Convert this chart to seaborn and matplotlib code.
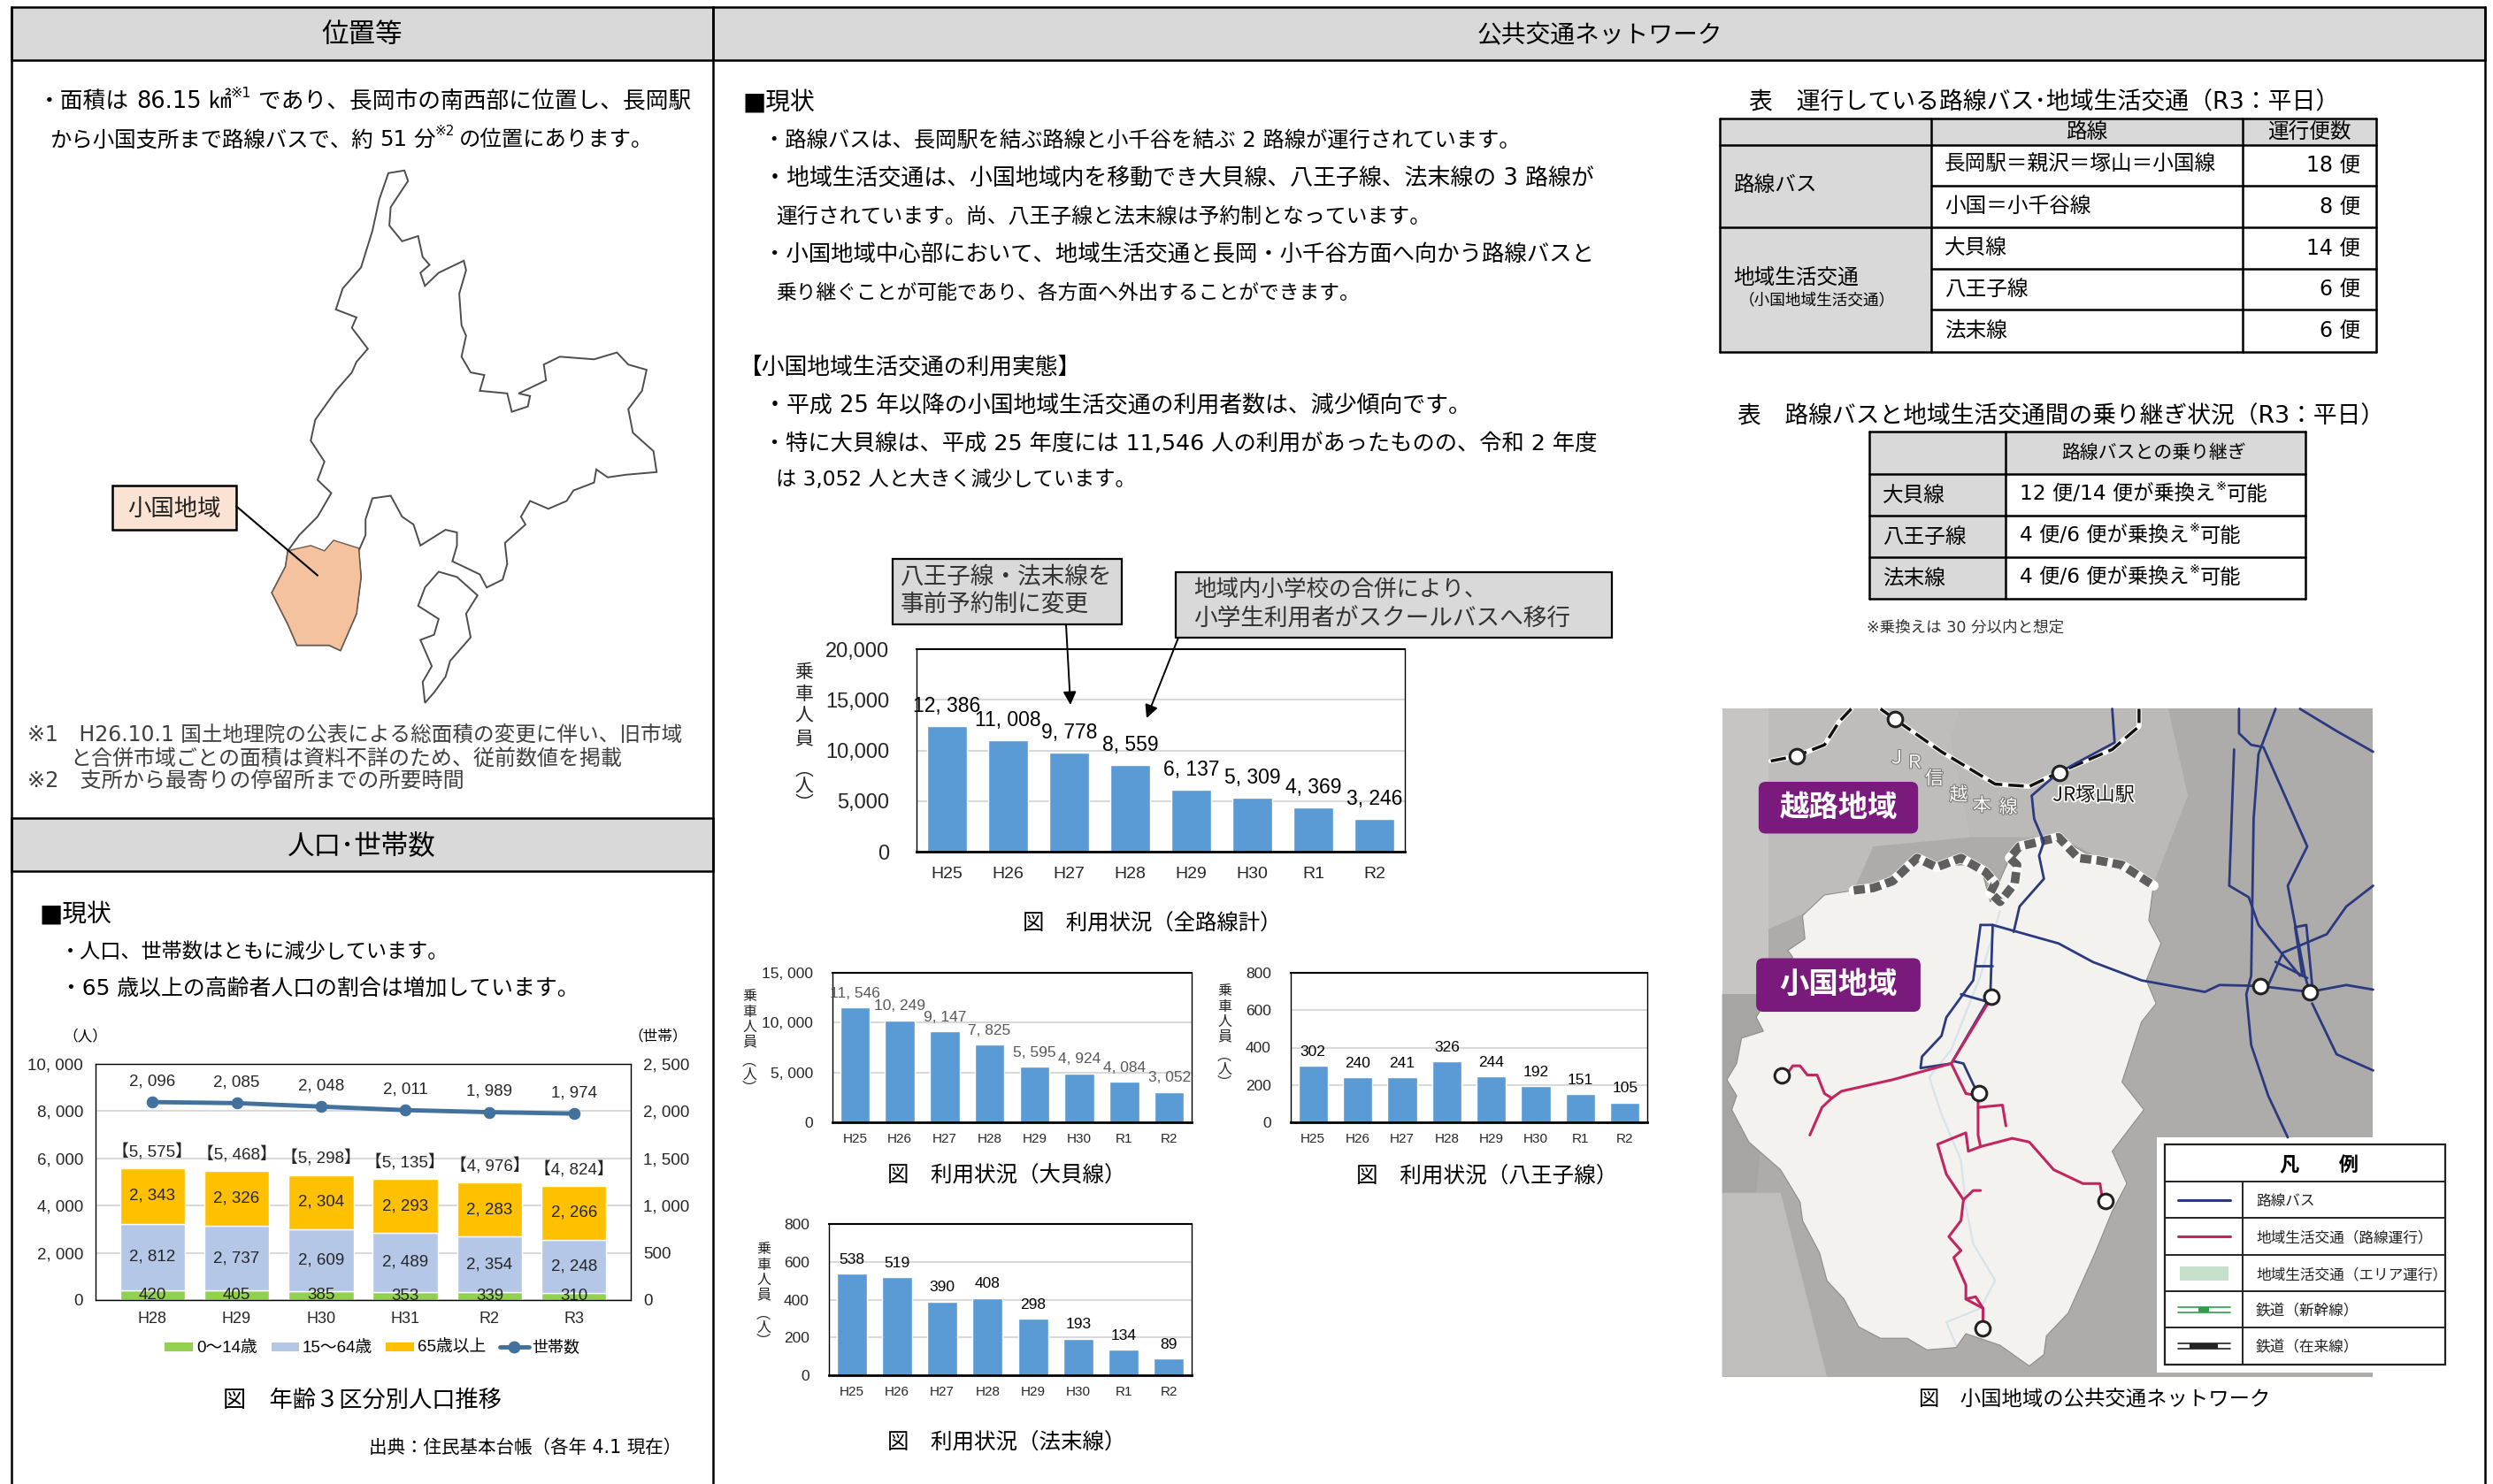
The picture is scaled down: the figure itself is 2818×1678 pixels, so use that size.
import numpy as np
import pandas as pd
import matplotlib
matplotlib.use('Agg')
import matplotlib.pyplot as plt
import matplotlib.patheffects as pe
import seaborn as sns
from matplotlib.patches import Polygon, Rectangle, FancyBboxPatch

W, H = 2818, 1678

sns.set_theme(style='white')
BODY = ['DejaVu Sans', 'Noto Sans CJK JP']
CJK = ['Noto Sans CJK JP', 'DejaVu Sans']
NARROW = ['Liberation Sans', 'Noto Sans CJK JP', 'DejaVu Sans']
plt.rcParams['font.family'] = BODY

# population chart
pop_years = ['H28', 'H29', 'H30', 'H31', 'R2', 'R3']
age_0_14 = [420, 405, 385, 353, 339, 310]
age_15_64 = [2812, 2737, 2609, 2489, 2354, 2248]
age_65 = [2343, 2326, 2304, 2293, 2283, 2266]
pop_total = [5575, 5468, 5298, 5135, 4976, 4824]
households = [2096, 2085, 2048, 2011, 1989, 1974]

# ridership charts
route_years = ['H25', 'H26', 'H27', 'H28', 'H29', 'H30', 'R1', 'R2']
riders_all = [12386, 11008, 9778, 8559, 6137, 5309, 4369, 3246]
riders_ogai = [11546, 10249, 9147, 7825, 5595, 4924, 4084, 3052]
riders_hachioji = [302, 240, 241, 326, 244, 192, 151, 105]
riders_hokkatsu = [538, 519, 390, 408, 298, 193, 134, 89]

# tables
bus_routes = ['長岡駅＝親沢＝塚山＝小国線', '小国＝小千谷線', '大貝線', '八王子線', '法末線']
bus_counts = ['18 便', '8 便', '14 便', '6 便', '6 便']
transfer_routes = ['大貝線', '八王子線', '法末線']
transfer_text = ['12 便/14 便が乗換え', '4 便/6 便が乗換え', '4 便/6 便が乗換え']

# locator map
city_outline = [(850,330),(885,325),(893,345),(870,375),(855,395),(852,430),(880,460),(915,450),(925,490),(940,505),
                (920,520),(930,545),(960,520),(1015,497),(1020,515),(1005,560),(1010,620),(1020,640),(1010,680),(1030,710),
                (1060,715),(1050,745),(1110,750),(1120,785),(1155,775),(1160,755),(1135,750),(1195,725),(1190,695),(1225,680),
                (1300,685),(1350,672),(1375,695),(1415,705),(1405,745),(1375,780),(1385,825),(1430,860),(1437,900),(1370,905),
                (1330,910),(1305,895),(1300,920),(1255,935),(1240,955),(1200,970),(1160,955),(1140,985),(1150,1000),(1105,1035),
                (1110,1075),(1100,1105),(1065,1120),(1050,1095),(990,1070),(1000,1040),(1000,1015),(975,1010),(920,1040),(905,1000),
                (880,985),(855,945),(815,950),(800,990),(800,1020),(785,1050),(790,1100),(780,1170),(745,1240),(720,1230),
                (650,1230),(630,1190),(595,1130),(625,1080),(630,1050),(655,1020),(695,985),(725,940),(695,915),(710,880),
                (680,840),(690,800),(735,745),(770,710),(780,690),(805,665),(770,625),(780,605),(735,590),(750,550),
                (790,510),(815,440),(830,380)]
city_south = [(930,1340),(925,1300),(945,1270),(920,1220),(950,1210),(960,1180),(915,1155),(930,1120),(960,1090),(1000,1100),
              (1045,1135),(1020,1170),(1030,1215),(985,1260),(975,1290),(950,1320)]
oguni_area = [(630,1050),(680,1040),(710,1050),(730,1030),(785,1045),(790,1100),(780,1170),(745,1240),(720,1230),(650,1230),
              (630,1190),(595,1130),(625,1080)]

# network map
region_outline = [(300,415),(240,425),(195,470),(200,520),(165,545),(175,560),(100,690),(115,720),(70,735),(60,790),
                  (40,825),(60,860),(50,890),(85,960),(150,1020),(190,1090),(195,1130),(230,1200),(245,1260),(280,1300),
                  (310,1360),(355,1385),(410,1385),(450,1410),(510,1405),(530,1375),(600,1400),(660,1445),(690,1420),(695,1380),
                  (740,1330),(795,1200),(830,1110),(860,1050),(830,980),(895,890),(850,830),(890,700),(920,660),(900,610),
                  (930,530),(905,480),(915,400),(870,380),(800,350),(720,300),(640,320),(620,345),(580,440),(560,360),
                  (500,360),(430,350),(380,395),(340,410)]
border_line = [(300,415),(340,410),(380,395),(430,345),(470,365),(520,345),(570,375),(590,400),(580,420),(600,440),
               (630,400),(635,360),(620,345),(640,320),(680,310),(720,300),(760,345),(800,350),(850,360),(915,405)]
river_line = [(600,460),(560,600),(500,760),(455,820),(480,900),(520,1000),(530,1100),(545,1180),(590,1260),(560,1320),(490,1350),(510,1400)]
bus_lines = [[(830,22),(835,95),(720,160),(665,210),(670,260),(690,310),(680,340),(690,390),(640,450),(628,505)],
             [(560,490),(585,490),(720,530),(790,570),(890,610),(1020,635),(1050,620),(1130,622),(1235,635),(1310,620),(1365,630)],
             [(560,490),(550,570),(545,610),(490,690),(480,730),(440,775),(437,800),(500,790),(580,645),(585,490)],
             [(550,578),(585,578)], [(520,640),(570,655)],
             [(505,785),(525,790),(545,835),(555,855)],
             [(1165,22),(1130,120),(1120,260),(1115,600),(1105,640),(1115,750),(1150,860),(1190,950)],
             [(1090,22),(1090,75),(1115,100),(1140,105),(1230,320),(1190,405),(1225,600),(1235,635)],
             [(1080,110),(1070,405),(1110,430),(1130,490),(1215,600)],
             [(1215,22),(1290,70),(1365,115)],
             [(1365,405),(1310,450),(1270,510),(1180,550),(1150,620)],
             [(1205,495),(1228,490),(1240,620)], [(1205,495),(1220,600)], [(1165,570),(1230,605)],
             [(1240,660),(1290,770),(1365,805)]]
local_lines = [[(165,810),(175,795),(190,795),(205,815),(225,815),(240,855),(255,865),(275,850),(380,825),(500,790),(575,660)],
               [(255,865),(235,885),(210,945)],
               [(500,790),(530,855),(555,860),(555,945),(560,970),(535,980),(530,940),(472,965),(490,1030),(525,1085),(520,1130),
                (495,1165),(520,1195),(505,1210),(530,1270),(530,1300),(565,1320),(565,1365)],
               [(530,1300),(550,1295),(565,1320)],
               [(555,885),(605,880),(612,925)],
               [(560,970),(625,952),(660,960),(710,1020),(770,1050),(805,1050),(810,1085)],
               [(525,1085),(545,1065),(560,1065)]]
rail_lines = [[(130,135),(183,124),(240,100),(270,50),(295,22)],
              [(355,22),(385,45),(480,115),(590,185),(660,190),(720,160),(830,110),(885,60),(885,22)]]
stations = [(183,124),(385,45),(722,160),(583,645),(557,854),(152,815),(817,1087),(565,1363),(1133,622),(1235,636)]
legend_names = ['路線バス', '地域生活交通（路線運行）', '地域生活交通（エリア運行）', '鉄道（新幹線）', '鉄道（在来線）']


fig = plt.figure(figsize=(W / 100, H / 100), dpi=100, facecolor='white')
ov = fig.add_axes([0, 0, 1, 1], zorder=10)
ov.set_xlim(0, W)
ov.set_ylim(H, 0)
ov.axis('off')
ov.patch.set_alpha(0)
renderer = fig.canvas.get_renderer()


def s(v):
    # positions read on the 1568 wide view
    return v * W / 1568


def lx(p):
    return p[0] / 1.936


def ly(p):
    return p[1] / 1.686


def mx(p):
    return 1930 + p[0] / 1.814


def my(p):
    return 790 + p[1] / 1.915


def mxy(pts):
    return [mx(p) for p in pts], [my(p) for p in pts]


def fit(x0, x1, y, txt, color='black', family=BODY):
    t = ov.text(x0, y + 2, txt, fontsize=20, color=color, va='center', ha='left', family=family)
    t.set_fontsize(20 * (x1 - x0) / t.get_window_extent(renderer).width)
    return t


def label(x, y, txt, size=17, ha='left', color='black', **kw):
    return ov.text(x, y + 2, txt, fontsize=size, color=color, va='center', ha=ha, **kw)


def rich(x0, x1, y, parts, color='black'):
    # parts: text, superscript flag, gap after in em
    def layout(size, draw):
        x = x0
        for txt, sup, gap in parts:
            fs = size * 0.62 if sup else size
            yy = y + 2 - size * 0.55 if sup else y + 2
            t = ov.text(x, yy, txt, fontsize=fs, color=color, va='center', ha='left')
            x += t.get_window_extent(renderer).width + gap * size / 0.72
            if not draw:
                t.remove()
        return x - x0
    size = 20 * (x1 - x0) / layout(20, False)
    layout(size, True)


def vlabel(x, y0, step, size):
    for i, c in enumerate('乗車人員'):
        ov.text(x, y0 + i * step, c, fontsize=size, ha='center', va='center', family=CJK)
    ov.text(x, y0 + 5.2 * step, '︵\n人\n︶', fontsize=size, ha='center', va='center', ma='center',
            linespacing=0.85, family=CJK)


def px_axes(l, t, r, b):
    return fig.add_axes([l / W, 1 - b / H, (r - l) / W, (b - t) / H], zorder=1)


def comma(v, sep=', '):
    return f'{v:,}'.replace(',', sep)


def narrow_ticks(ax):
    for t in ax.get_xticklabels() + ax.get_yticklabels():
        t.set_family(NARROW)


def ridership(box, values, ymax, step, lab_size, y_size, x_size, ypad, xpad, lab_pad, lab_color='black', sep=', '):
    ax = px_axes(*box)
    df = pd.DataFrame({'year': route_years, 'riders': values})
    sns.barplot(data=df, x='year', y='riders', color='#5B9BD5', saturation=1, width=0.66, ax=ax)
    ax.set_ylim(0, ymax)
    ax.set_xlabel('')
    ax.set_ylabel('')
    ticks = np.arange(0, ymax + 1, step)
    ax.set_yticks(ticks)
    ax.set_yticklabels([comma(int(v), sep) for v in ticks])
    ax.tick_params(axis='y', length=0, pad=ypad, labelsize=y_size)
    ax.tick_params(axis='x', length=0, pad=xpad, labelsize=x_size)
    narrow_ticks(ax)
    ax.grid(axis='y', color='#D9D9D9', lw=1.5)
    ax.set_axisbelow(True)
    for sp in ax.spines.values():
        sp.set_color('black')
        sp.set_linewidth(1.0)
    ax.spines['bottom'].set_linewidth(2)
    ax.spines['top'].set_linewidth(1.5)
    ax.bar_label(ax.containers[0], labels=[comma(v) for v in values], padding=lab_pad,
                 fontsize=lab_size, color=lab_color, family=NARROW)
    return ax


# frame and section headers
for x0, x1, y0, y1 in [(13, 806, 8, 68), (806, 2809, 8, 68), (13, 806, 925, 985)]:
    ov.add_patch(Rectangle((x0, y0), x1 - x0, y1 - y0, fc='#D9D9D9', ec='black', lw=1.8))
ov.plot([13, 13], [8, H], color='black', lw=1.8)
ov.plot([806, 806], [8, H], color='black', lw=1.8)
ov.plot([2809, 2809], [8, H], color='black', lw=1.8)
label(409, 38, '位置等', 22, 'center')
label(1808, 38, '公共交通ネットワーク', 20, 'center')
label(409, 955, '人口･世帯数', 22, 'center', family=CJK)

# location section
rich(s(24), s(434), s(63), [('・面積は', 0, 0.3), ('86.15', 0, 0.3), ('㎢', 0, 0), ('※1', 1, 0.3), ('であり、長岡市の南西部に位置し、長岡駅', 0, 0)])
rich(s(31), s(411), s(87), [('から小国支所まで路線バスで、約', 0, 0.3), ('51', 0, 0.3), ('分', 0, 0), ('※2', 1, 0.2), ('の位置にあります。', 0, 0)])
for pts, fc in [(city_outline, 'white'), (city_south, 'white')]:
    ov.add_patch(Polygon([(lx(p), ly(p)) for p in pts], fc=fc, ec='#4D4D4D', lw=1.4))
ov.add_patch(Polygon([(lx(p), ly(p)) for p in oguni_area], fc='#F4C29F', ec='#6B5A4D', lw=1))
ov.plot([lx((517, 965)), lx((695, 1097))], [ly((517, 965)), ly((695, 1097))], color='black', lw=1.5)
ov.add_patch(Rectangle((lx((246, 0)), ly((0, 925))), lx((271, 0)), ly((0, 85)), fc='#FBE3D4', ec='black', lw=1.8))
label(lx((381, 0)), ly((0, 967)), '小国地域', 19, 'center', color='#222222')
fit(s(17), s(428), s(461), '※1　H26.10.1 国土地理院の公表による総面積の変更に伴い、旧市域', '#404040')
fit(s(44), s(390), s(476), 'と合併市域ごとの面積は資料不詳のため、従前数値を掲載', '#404040')
fit(s(17), s(291), s(490), '※2　支所から最寄りの停留所までの所要時間', '#404040')

# population section
label(s(25), s(574), '■現状', 20)
fit(s(38), s(283), s(598), '・人口、世帯数はともに減少しています。')
fit(s(38), s(364), s(621), '・65 歳以上の高齢者人口の割合は増加しています。')

pop_ax = px_axes(108, 1203, 713, 1470)
pop_df = pd.DataFrame({'year': pop_years, 'young': age_0_14, 'mid': age_15_64, 'old': age_65})
bottoms = np.zeros(len(pop_years))
for col, colour in [('young', '#92D050'), ('mid', '#B4C7E7'), ('old', '#FFC000')]:
    sns.barplot(data=pop_df, x='year', y=col, color=colour, saturation=1, width=0.77, bottom=bottoms, ax=pop_ax)
    bottoms = bottoms + pop_df[col].to_numpy()
pop_ax.set_ylim(0, 10000)
pop_ax.set_xlabel('')
pop_ax.set_ylabel('')
pop_ax.set_yticks(np.arange(0, 10001, 2000))
pop_ax.set_yticklabels([comma(int(v)) for v in np.arange(0, 10001, 2000)])
pop_ax.tick_params(axis='y', length=0, pad=10, labelsize=13.5)
pop_ax.tick_params(axis='x', length=0, pad=9, labelsize=13)
narrow_ticks(pop_ax)
pop_ax.grid(axis='y', color='#D9D9D9', lw=1.5)
pop_ax.set_axisbelow(True)
for sp in pop_ax.spines.values():
    sp.set_color('black')
    sp.set_linewidth(1.0)
for cont, vals in zip(pop_ax.containers, [age_0_14, age_15_64, age_65]):
    pop_ax.bar_label(cont, labels=[comma(v) for v in vals], label_type='center', fontsize=13.5, family=NARROW)
pop_ax.bar_label(pop_ax.containers[2], labels=['【' + comma(v) + '】' for v in pop_total], padding=7, fontsize=13.5, family=NARROW)

hh_ax = pop_ax.twinx()
sns.lineplot(x=np.arange(len(pop_years)), y=households, color='#41719C', lw=3.5, marker='o', markersize=9,
             markeredgecolor='#41719C', ax=hh_ax)
hh_ax.set_ylim(0, 2500)
hh_ax.set_yticks(np.arange(0, 2501, 500))
hh_ax.set_yticklabels([comma(int(v)) for v in np.arange(0, 2501, 500)])
hh_ax.tick_params(axis='y', length=0, pad=10, labelsize=13.5, right=False)
narrow_ticks(hh_ax)
hh_ax.grid(False)
for sp in hh_ax.spines.values():
    sp.set_visible(False)
for i, v in enumerate(households):
    hh_ax.annotate(comma(v), (i, v), xytext=(0, 17), textcoords='offset points', ha='center', va='center',
                   fontsize=13.5, family=NARROW)

label(96, 1170, '（人）', 12, 'center', family=CJK)
label(744, 1170, '（世帯）', 12, 'center', family=CJK)
for x0, x1, colour, txt in [(186, 218, '#92D050', '0～14歳'), (307, 338, '#B4C7E7', '15～64歳'), (436, 468, '#FFC000', '65歳以上')]:
    ov.add_patch(Rectangle((x0, 1518), x1 - x0, 10, fc=colour, ec='none'))
    label(x1 + 4, 1522, txt, 13.5, family=NARROW)
ov.plot([565, 598], [1523, 1523], color='#41719C', lw=3.5)
ov.plot([581], [1523], 'o', color='#41719C', ms=9)
label(601, 1522, '世帯数', 13, family=CJK)
fit(s(140), s(315), s(880), '図　年齢３区分別人口推移', family=CJK)
fit(s(232), s(429), s(910), '出典：住民基本台帳（各年 4.1 現在）')

# transport section text
label(s(467), s(63), '■現状', 20)
fit(s(480), s(957), s(87), '・路線バスは、長岡駅を結ぶ路線と小千谷を結ぶ 2 路線が運行されています。')
fit(s(480), s(1003), s(111), '・地域生活交通は、小国地域内を移動でき大貝線、八王子線、法末線の 3 路線が')
fit(s(488), s(899), s(135), '運行されています。尚、八王子線と法末線は予約制となっています。')
fit(s(480), s(1003), s(159), '・小国地域中心部において、地域生活交通と長岡・小千谷方面へ向かう路線バスと')
fit(s(488), s(855), s(183), '乗り継ぐことが可能であり、各方面へ外出することができます。')
fit(s(465), s(680), s(230), '【小国地域生活交通の利用実態】')
fit(s(480), s(926), s(254), '・平成 25 年以降の小国地域生活交通の利用者数は、減少傾向です。')
fit(s(480), s(1003), s(278), '・特に大貝線は、平成 25 年度には 11,546 人の利用があったものの、令和 2 年度')
fit(s(488), s(714), s(301), 'は 3,052 人と大きく減少しています。')

# ridership charts
ridership((1036, 734, 1588, 963), riders_all, 20000, 5000, 16.5, 17, 14, 22, 12, 8, sep=',')
ridership((941, 1100, 1347, 1269), riders_ogai, 15000, 5000, 12.5, 12.5, 11, 16, 9, 6, '#595959')
ridership((1459, 1100, 1862, 1269), riders_hachioji, 800, 200, 12.5, 12.5, 11, 16, 9, 6)
ridership((937, 1384, 1347, 1555), riders_hokkatsu, 800, 200, 12.5, 12.5, 11, 16, 9, 6)
vlabel(909, 760, 25, 15)
vlabel(847, 1127, 17, 11.5)
vlabel(1384, 1121, 17, 11.5)
vlabel(863, 1413, 17, 11.5)

# callouts
ov.add_patch(Rectangle((1009, 632), 259, 74, fc='#D9D9D9', ec='black', lw=1.6))
ov.add_patch(Rectangle((1329, 647), 493, 74, fc='#D9D9D9', ec='black', lw=1.6))
fit(1018, 1257, 650, '八王子線・法末線を', '#333333', CJK)
fit(1018, 1231, 682, '事前予約制に変更', '#333333', CJK)
fit(1349, 1680, 666, '地域内小学校の合併により、', '#333333', CJK)
fit(1349, 1775, 698, '小学生利用者がスクールバスへ移行', '#333333', CJK)
for a, b in [((1205, 706), (1210, 797)), ((1332, 721), (1296, 812))]:
    ov.annotate('', xy=b, xytext=a, arrowprops=dict(arrowstyle='-|>', color='black', lw=1.4, mutation_scale=22, shrinkA=0, shrinkB=0))

fit(s(643), s(806), s(580), '図　利用状況（全路線計）', family=CJK)
fit(s(558), s(708), s(739), '図　利用状況（大貝線）', family=CJK)
fit(s(853), s(1017), s(739), '図　利用状況（八王子線）', family=CJK)
fit(s(558), s(708), s(907), '図　利用状況（法末線）', family=CJK)

# table of services
fit(1977, 2643, 114, '表　運行している路線バス･地域生活交通（R3：平日）', family=BODY)
t1_x = [1944, 2183, 2535, 2686]
t1_y = [134, 163.5, 210, 257, 304, 350, 398]
ov.add_patch(Rectangle((t1_x[0], t1_y[0]), t1_x[1] - t1_x[0], t1_y[-1] - t1_y[0], fc='#D9D9D9', ec='none'))
ov.add_patch(Rectangle((t1_x[0], t1_y[0]), t1_x[3] - t1_x[0], t1_y[1] - t1_y[0], fc='#D9D9D9', ec='none'))
for x in t1_x:
    ov.plot([x, x], [t1_y[0], t1_y[-1]], color='black', lw=1.8)
ov.plot([t1_x[0], t1_x[3]], [t1_y[0]] * 2, color='black', lw=1.8)
for i, y in enumerate(t1_y[1:]):
    start = t1_x[1] if i in (1, 3, 4) else t1_x[0]
    ov.plot([start, t1_x[3]], [y, y], color='black', lw=1.8)
label((t1_x[1] + t1_x[2]) / 2, 147, '路線', 17, 'center')
label((t1_x[2] + t1_x[3]) / 2, 147, '運行便数', 17, 'center')
label(1959, 207, '路線バス', 17)
label(1959, 312, '地域生活交通', 17)
fit(1966, 2142, 337, '（小国地域生活交通）', family=CJK)
for i, (r, c) in enumerate(zip(bus_routes, bus_counts)):
    cy = (t1_y[i + 1] + t1_y[i + 2]) / 2 - 2
    label(2198, cy, r, 17, family=CJK)
    label(2668, cy, c, 17, 'right')

# transfer table
fit(1964, 2694, 469, '表　路線バスと地域生活交通間の乗り継ぎ状況（R3：平日）')
t2_x = [2113, 2267, 2606]
t2_y = [488, 536, 583, 630, 677]
ov.add_patch(Rectangle((t2_x[0], t2_y[0]), t2_x[1] - t2_x[0], t2_y[-1] - t2_y[0], fc='#D9D9D9', ec='none'))
ov.add_patch(Rectangle((t2_x[0], t2_y[0]), t2_x[2] - t2_x[0], t2_y[1] - t2_y[0], fc='#D9D9D9', ec='none'))
for x in t2_x:
    ov.plot([x, x], [t2_y[0], t2_y[-1]], color='black', lw=1.8)
for y in t2_y:
    ov.plot([t2_x[0], t2_x[2]], [y, y], color='black', lw=1.8)
label(2435, 510, '路線バスとの乗り継ぎ', 15, 'center')
for i, (r, txt) in enumerate(zip(transfer_routes, transfer_text)):
    cy = (t2_y[i + 1] + t2_y[i + 2]) / 2 - 2
    label(2128, cy, r, 17)
    x_end = 2563 if i == 0 else 2533
    rich(2283, x_end, cy, [(txt, 0, 0), ('※', 1, 0), ('可能', 0, 0)])
fit(2110, 2333, 708, '※乗換えは 30 分以内と想定', '#333333')

# network map
ov.add_patch(Rectangle((mx((30, 0)), my((0, 22))), 1335 / 1.814, 1446 / 1.915, fc='#ADACAA', ec='none'))
for poly, colour in [([(30,22),(125,22),(125,640),(30,640)], '#C6C5C3'),
                     ([(125,22),(520,22),(500,90),(540,300),(340,320),(300,415),(125,500)], '#BEBDBB'),
                     ([(520,22),(945,22),(985,210),(915,400),(720,300),(540,300),(500,90)], '#BBBAB8'),
                     ([(30,640),(140,640),(100,1070),(30,1070)], '#A6A5A3'),
                     ([(30,1070),(150,1070),(245,1468),(30,1468)], '#BFBEBC')]:
    ov.add_patch(Polygon([(mx(p), my(p)) for p in poly], fc=colour, ec='none'))
ov.add_patch(Polygon([(mx(p), my(p)) for p in region_outline], fc='#F3F2EF', ec='#8C8C8C', lw=0.8))
xs, ys = mxy(river_line)
ov.plot(xs, ys, color='#D5E3EA', lw=1.6)
xs, ys = mxy(border_line)
ov.plot(xs, ys, color='white', lw=8, solid_capstyle='round')
ov.plot(xs, ys, color='#5F5F5F', lw=7, linestyle=(0, (1.3, 0.6)))
for line in rail_lines:
    xs, ys = mxy(line)
    ov.plot(xs, ys, color='white', lw=4)
    ov.plot(xs, ys, color='#111111', lw=2.5, linestyle=(0, (5, 2)))
for line in bus_lines:
    xs, ys = mxy(line)
    ov.plot(xs, ys, color='#2B3A80', lw=2.0)
for line in local_lines:
    xs, ys = mxy(line)
    ov.plot(xs, ys, color='#C2255F', lw=2.2)
xs, ys = mxy(stations)
ov.plot(xs, ys, 'o', mfc='white', mec='#222222', mew=2.2, ms=12, ls='none')
for (x0, y0, x1, y1), name in [((105, 180, 432, 292), '越路地域'), ((100, 562, 437, 678), '小国地域')]:
    ov.add_patch(FancyBboxPatch((mx((x0, 0)) + 6, my((0, y0)) + 6), (x1 - x0) / 1.814 - 12, (y1 - y0) / 1.915 - 12,
                                boxstyle='round,pad=6,rounding_size=8', fc='#7A1A7C', ec='none'))
    label(mx(((x0 + x1) / 2, 0)), my((0, (y0 + y1) / 2)) - 2, name, 24, 'center', color='white', weight='bold', family=CJK)
for c, p in zip('ＪＲ信越本線', [(388,125),(425,135),(465,170),(515,205),(563,228),(617,232)]):
    label(mx(p), my(p), c, 15, 'center', color='white', family=CJK,
          path_effects=[pe.withStroke(linewidth=1.5, foreground='#777777')])
label(mx((792, 0)), my((0, 205)), 'JR塚山駅', 16, 'center', color='#111111', family=CJK,
      path_effects=[pe.withStroke(linewidth=2.5, foreground='white')])

# map legend
ov.add_patch(Rectangle((mx((922, 0)), my((0, 950))), 600 / 1.814, 510 / 1.915, fc='white', ec='none'))
leg_y = [965, 1045, 1125, 1205, 1283, 1362, 1442]
ov.add_patch(Rectangle((mx((937, 0)), my((0, 965))), 575 / 1.814, 477 / 1.915, fc='white', ec='#222222', lw=1.6))
for y in leg_y[1:-1]:
    ov.plot([mx((937, 0)), mx((1512, 0))], [my((0, y))] * 2, color='#222222', lw=1.4)
ov.plot([mx((1098, 0))] * 2, [my((0, 1045)), my((0, 1442))], color='#222222', lw=1.4)
label(mx((1255, 0)), my((0, 1006)), '凡　　例', 16, 'center', weight='bold', family=CJK)
for i, name in enumerate(legend_names):
    cy = my((0, (leg_y[i + 1] + leg_y[i + 2]) / 2))
    label(mx((1125, 0)), cy, name, 12, family=CJK, color='#222222')
    x0, x1 = mx((965, 0)), mx((1072, 0))
    if i < 2:
        ov.plot([x0, x1], [cy, cy], color=['#2B3A80', '#C2255F'][i], lw=2.2)
    elif i == 2:
        ov.add_patch(Rectangle((mx((968, 0)), cy - 8), 100 / 1.814, 16, fc='#C6E0CB', ec='none'))
    else:
        colour = '#2E9E4F' if i == 3 else '#222222'
        ov.plot([x0, x1], [cy - 3, cy - 3], color=colour, lw=1.2)
        ov.plot([x0, x1], [cy + 3, cy + 3], color=colour, lw=1.2)
        ov.add_patch(Rectangle(((x0 + x1) / 2 - (6 if i == 3 else 16), cy - 3), 12 if i == 3 else 32, 6, fc=colour, ec='none'))
fit(s(1207), s(1428), s(880), '図　小国地域の公共交通ネットワーク', family=CJK)

fig.savefig('out.png', dpi=100)
